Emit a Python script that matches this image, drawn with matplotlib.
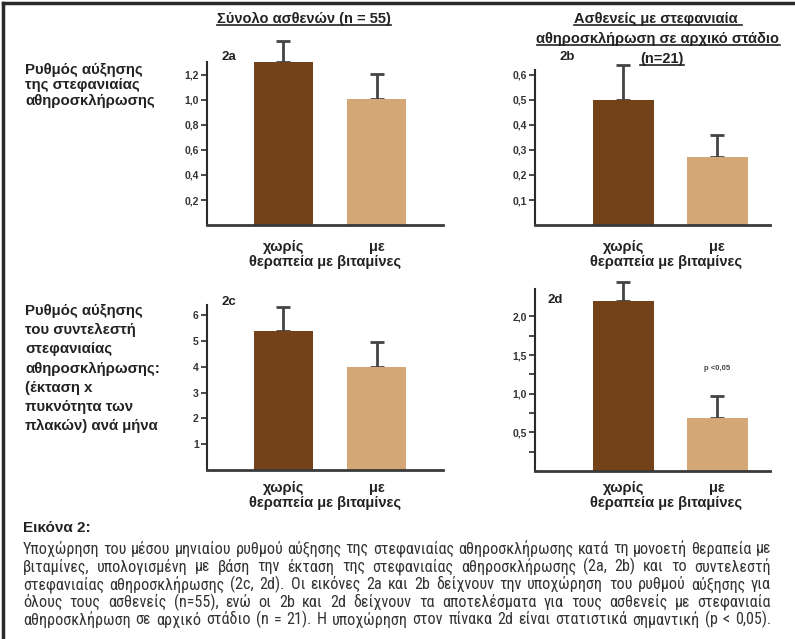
import numpy as np
import matplotlib
matplotlib.use('Agg')
import matplotlib.pyplot as plt
from matplotlib import font_manager
from matplotlib.lines import Line2D
from matplotlib.transforms import blended_transform_factory


# colours
dark_brown = '#744219'
light_tan = '#D3A776'
ink = '#2b2b2b'

groups = ['χωρίς', 'με']

# 2a / 2b: growth rate of coronary atherosclerosis
rate_all = [1.30, 1.01]
rate_all_err = [0.17, 0.20]
rate_early = [0.50, 0.27]
rate_early_err = [0.14, 0.09]

# 2c / 2d: growth rate of the coronary score
score_all = [5.40, 4.00]
score_all_err = [0.90, 0.95]
score_early = [2.20, 0.68]
score_early_err = [0.24, 0.29]

ticks_2a = [0.2, 0.4, 0.6, 0.8, 1.0, 1.2]
ticks_2b = [0.1, 0.2, 0.3, 0.4, 0.5, 0.6]
ticks_2c = [1, 2, 3, 4, 5, 6]
ticks_2d = [0.5, 1.0, 1.5, 2.0]
minor_2d = [0.25, 0.75, 1.25, 1.75]

header_left = 'Σύνολο ασθενών (n = 55)'
header_right = ['Ασθενείς με στεφανιαία ',
                'αθηροσκλήρωση σε αρχικό στάδιο',
                '(n=21)']
label_top = 'Ρυθμός αύξησης\nτης στεφανιαίας\nαθηροσκλήρωσης'
label_bottom = ('Ρυθμός αύξησης\nτου συντελεστή\nστεφανιαίας\n'
                'αθηροσκλήρωσης:\n(έκταση x\nπυκνότητα των\nπλακών) ανά μήνα')
xlabel_line = 'θεραπεία με βιταμίνες'
caption_title = 'Εικόνα 2:'
caption_lines = [
    'Υποχώρηση του μέσου μηνιαίου ρυθμού αύξησης της στεφανιαίας αθηροσκλήρωσης κατά τη μονοετή θεραπεία με',
    'βιταμίνες, υπολογισμένη με βάση την έκταση της στεφανιαίας αθηροσκλήρωσης (2a, 2b) και το συντελεστή',
    'στεφανιαίας αθηροσκλήρωσης (2c, 2d). Οι εικόνες 2a και 2b δείχνουν την υποχώρηση του ρυθμού αύξησης για',
    'όλους τους ασθενείς (n=55), ενώ οι 2b και 2d δείχνουν τα αποτελέσματα για τους ασθενείς με στεφανιαία',
    'αθηροσκλήρωση σε αρχικό στάδιο (n = 21). Η υποχώρηση στον πίνακα 2d είναι στατιστικά σημαντική (p < 0,05).',
]


def pick_font(names):
    have = {f.name for f in font_manager.fontManager.ttflist}
    for n in names:
        if n in have:
            return n
    return 'DejaVu Sans'


main_font = pick_font(['Liberation Sans', 'Arial', 'DejaVu Sans'])
narrow_font = pick_font(['Liberation Sans Narrow', 'Arial Narrow', 'Roboto Condensed',
                         'Roboto', 'Liberation Sans'])
plt.rcParams['font.family'] = [main_font, 'DejaVu Sans']

W, H = 795, 639
fig = plt.figure(figsize=(W / 100, H / 100), dpi=100)


def px_axes(x0, y0, x1, y1):
    return fig.add_axes([x0 / W, 1 - y1 / H, (x1 - x0) / W, (y1 - y0) / H])


def px_text(x, y, s, **kw):
    return fig.text(x / W, 1 - y / H, s, **kw)


def bar_panel(ax, vals, errs, ytop, yticks, fmt, spine_top, xlim, width, minor=None):
    x = np.arange(len(vals))
    ax.bar(x, vals, width=width, color=[dark_brown, light_tan], zorder=2)
    ax.errorbar(x, vals, yerr=[np.zeros(len(errs)), errs], fmt='none',
                ecolor='#444444', elinewidth=2, capsize=5, capthick=2, zorder=1)
    ax.set_xlim(*xlim)
    ax.set_ylim(0, ytop)
    ax.set_yticks(yticks)
    ax.set_yticklabels([fmt.format(t).replace('.', ',') for t in yticks],
                       fontsize=7.5, fontweight='bold', color='#333333')
    if minor is not None:
        ax.set_yticks(minor, minor=True)
        ax.tick_params(axis='y', which='minor', length=4, width=1.2, color=ink)
    ax.set_xticks([])
    ax.tick_params(axis='y', length=4, width=1.2, color=ink, pad=2)
    ax.patch.set_alpha(0)
    for s in ['top', 'right']:
        ax.spines[s].set_visible(False)
    ax.spines['left'].set_bounds(0, spine_top)
    ax.spines['left'].set_linewidth(1.5)
    ax.spines['bottom'].set_linewidth(2)
    ax.spines['left'].set_color(ink)
    ax.spines['bottom'].set_color('#3a3a3a')


left_col = (207, 443)
right_col = (535, 770)
xlim_left = (-0.82, 1.71)
xlim_right = (-0.94, 1.56)

ax_a = px_axes(left_col[0], 35, left_col[1], 225)
bar_panel(ax_a, rate_all, rate_all_err, 1.52, ticks_2a, '{:.1f}', 1.30, xlim_left, 0.63)
ax_b = px_axes(right_col[0], 35, right_col[1], 225)
bar_panel(ax_b, rate_early, rate_early_err, 0.76, ticks_2b, '{:.1f}', 0.62, xlim_right, 0.65)
ax_c = px_axes(left_col[0], 280, left_col[1], 470)
bar_panel(ax_c, score_all, score_all_err, 7.36, ticks_2c, '{:d}', 6.4, xlim_left, 0.63)
ax_d = px_axes(right_col[0], 280, right_col[1], 471)
bar_panel(ax_d, score_early, score_early_err, 2.47, ticks_2d, '{:.1f}', 2.35, xlim_right, 0.65,
          minor=minor_2d)

# panel tags
for x, y, s in [(222, 57, '2a'), (560, 57, '2b'), (222, 302, '2c'), (547, 300, '2d')]:
    px_text(x, y, s, fontsize=9.5, fontweight='bold', va='center', color='#222222')

ax_d.text(1.0, 1.32, 'p <0,05', fontsize=5.5, fontweight='bold', ha='center',
          va='center', color='#444444')

# category labels under the bars
for ax, y1, y2 in [(ax_a, 247, 262), (ax_b, 247, 262), (ax_c, 488, 503), (ax_d, 488, 503)]:
    tr = blended_transform_factory(ax.transData, fig.transFigure)
    for i, g in enumerate(groups):
        ax.text(i, 1 - y1 / H, g, transform=tr, ha='center', va='center',
                fontsize=10.5, fontweight='bold', color='#222222')
    ax.text(0.45, 1 - y2 / H, xlabel_line, transform=tr, ha='center', va='center',
            fontsize=10.5, fontweight='bold', color='#222222')

# side labels
px_text(25, 63, label_top, fontsize=10.8, fontweight='bold', va='top',
        linespacing=1.12, color='#222222')
px_text(25, 304, label_bottom, fontsize=10.8, fontweight='bold', va='top',
        linespacing=1.47, color='#222222')

# column headers (underlined)
headers = [px_text(304, 19, header_left, fontsize=10.5, fontweight='bold',
                   ha='center', va='center', color='#222222')]
for k, line in enumerate(header_right):
    xc = 662 if k == 2 else 658
    headers.append(px_text(xc, 19 + 20 * k, line, fontsize=10.5, fontweight='bold',
                           ha='center', va='center', color='#222222'))

# caption
px_text(23, 528, caption_title, fontsize=11, fontweight='bold', va='center',
        color='#222222')

fig.canvas.draw()
renderer = fig.canvas.get_renderer()

for t in headers:
    bb = t.get_window_extent(renderer)
    fig.add_artist(Line2D([bb.x0 / W, bb.x1 / W], [(bb.y0 + 1) / H] * 2,
                          transform=fig.transFigure, color='#222222', lw=1.2))

# justified caption, one word at a time
x_left, x_right = 23, 771
for k, line in enumerate(caption_lines):
    y = 549 + 17.7 * k
    words = line.split(' ')
    fs = 11.6
    objs = [px_text(0, y, w, fontsize=fs, family=[narrow_font, 'DejaVu Sans'],
                    va='center', color='#333333') for w in words]
    widths = [o.get_window_extent(renderer).width for o in objs]
    need = sum(widths) + 3.5 * (len(words) - 1)
    if need > x_right - x_left:
        fs *= (x_right - x_left - 3.5 * (len(words) - 1)) / sum(widths)
        for o in objs:
            o.set_fontsize(fs)
        widths = [o.get_window_extent(renderer).width for o in objs]
    gap = (x_right - x_left - sum(widths)) / max(len(words) - 1, 1)
    x = x_left
    for o, w in zip(objs, widths):
        o.set_x(x / W)
        x += w + gap

# frame on the top and left edge
fig.add_artist(Line2D([3 / W, 1], [1 - 3 / H] * 2, transform=fig.transFigure,
                      color='#2a2a2a', lw=2.5))
fig.add_artist(Line2D([3 / W] * 2, [0, 1 - 3 / H], transform=fig.transFigure,
                      color='#2a2a2a', lw=2.5))

fig.savefig('out.png', dpi=100)
plt.close()
